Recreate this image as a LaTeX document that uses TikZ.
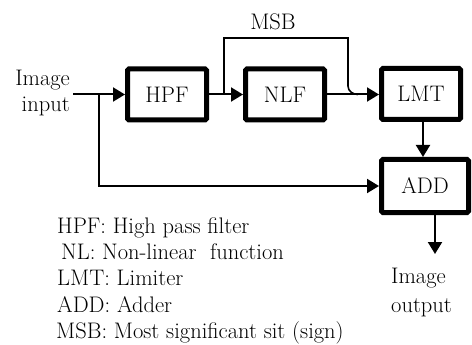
\documentclass[tikz,border=0pt]{standalone}
\usetikzlibrary{arrows.meta}
\begin{document}
\begin{tikzpicture}[x=1pt,y=-1pt,
  blk/.style={draw,line width=5pt,rounded corners=1.5pt,inner sep=0pt,
    minimum width=79pt,minimum height=51pt,font=\fontsize{22.5}{26}\selectfont},
  conn/.style={line width=2pt,-{Triangle[length=12pt,width=14pt]}},
  plain/.style={line width=2pt},
  txt/.style={inner sep=0pt,font=\fontsize{22.5}{26}\selectfont},
  leg/.style={txt,anchor=west}]
\useasboundingbox (0,0) rectangle (472,345);
\node[blk] (hpf) at (167,94.5) {HPF};
\node[blk] (nlf) at (285,94.5) {NLF};
\node[blk] (lmt) at (421,94) {LMT};
\node[blk,minimum width=87pt,minimum height=53pt] (add) at (425,186) {ADD};
\node[txt,align=right,anchor=east] (in) at (70,93) {Image\\input};
\node[txt,align=left,anchor=west] (out) at (391,293) {Image\\[3pt]output};
\node[txt] (msb) at (273,22) {MSB};
\coordinate (b1) at (99,94.5);
\coordinate (b2) at (224,94.5);
\coordinate (tipout) at (435,254);
\draw[plain] (73,94.5) -- (b1);
\draw[conn] (b1) -- (hpf.west);
\draw[conn] (hpf.east) -- (nlf.west);
\draw[conn] (nlf.east) -- (lmt.west |- nlf.east);
\draw[line width=1.6pt] (b2) |- (348,38) -- (348,86) to[out=-90,in=180] (358,94.5);
\draw[conn] (b1) |- (add.west |- 0,186);
\draw[conn] (lmt.south -| 423,0) -- (add.north -| 423,0);
\draw[conn] (add.south -| tipout) -- (tipout);
\node[leg] (l1) at (57,228) {HPF: High pass filter};
\node[leg] (l2) at (61,252) {NL: Non-linear\ \ function};
\node[leg] (l3) at (57,278) {LMT: Limiter};
\node[leg] (l4) at (57,305) {ADD: Adder};
\node[leg] (l5) at (56,333) {MSB: Most significant sit (sign)};
\end{tikzpicture}
\end{document}
